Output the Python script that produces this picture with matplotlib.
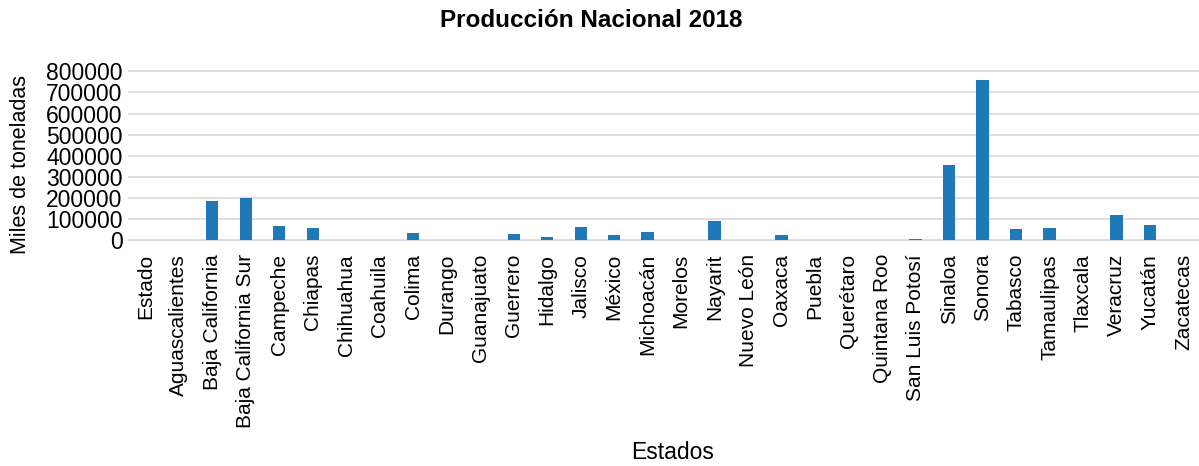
import matplotlib
matplotlib.use("Agg")
import matplotlib.pyplot as plt

estados = ["Estado", "Aguascalientes", "Baja California", "Baja California Sur", "Campeche",
           "Chiapas", "Chihuahua", "Coahuila", "Colima", "Durango", "Guanajuato", "Guerrero",
           "Hidalgo", "Jalisco", "México", "Michoacán", "Morelos", "Nayarit", "Nuevo León",
           "Oaxaca", "Puebla", "Querétaro", "Quintana Roo", "San Luis Potosí", "Sinaloa",
           "Sonora", "Tabasco", "Tamaulipas", "Tlaxcala", "Veracruz", "Yucatán", "Zacatecas"]
produccion = [0, 0, 186000, 197000, 67000, 59000, 0, 0, 32000, 0, 0, 28000,
              15000, 61000, 23000, 37000, 0, 88000, 0, 24000, 2000, 2000, 0, 3000, 357000,
              757000, 54000, 59000, 0, 119000, 70000, 0]
yticks = [0, 100000, 200000, 300000, 400000, 500000, 600000, 700000, 800000]

plt.rcParams['font.family'] = ['Liberation Sans', 'DejaVu Sans']

fig = plt.figure(figsize=(11.99, 4.66), dpi=100)
ax = fig.add_axes([0.107, 0.485, 0.893, 0.38])
x = list(range(len(estados)))
ax.bar(x, produccion, width=0.37, color='#1f78b8', zorder=3)
ax.set_xlim(-0.507, 31.46)
ax.set_ylim(0, 840000)
ax.set_yticks(yticks)
ax.set_yticklabels([str(v) for v in yticks], fontsize=16.5)
ax.set_xticks(x)
ax.set_xticklabels(estados, rotation=90, fontsize=15)
ax.tick_params(axis='both', length=0)
ax.tick_params(axis='x', pad=10)
ax.tick_params(axis='y', pad=4)
ax.grid(axis='y', color='#d9d9d9', linewidth=1.2, zorder=0)
for s in ['top', 'right', 'left']:
    ax.spines[s].set_visible(False)
ax.spines['bottom'].set_color('#d9d9d9')
fig.text(0.0167, 0.646, "Miles de toneladas", rotation=90, ha='center', va='center',
         fontsize=15.5)
fig.text(0.561, 0.03, "Estados", ha='center', va='center', fontsize=16.5)
fig.text(0.493, 0.955, "Producción Nacional 2018", ha='center', va='center',
         fontsize=17.5, fontweight='bold')
fig.savefig("out.png", dpi=100)
